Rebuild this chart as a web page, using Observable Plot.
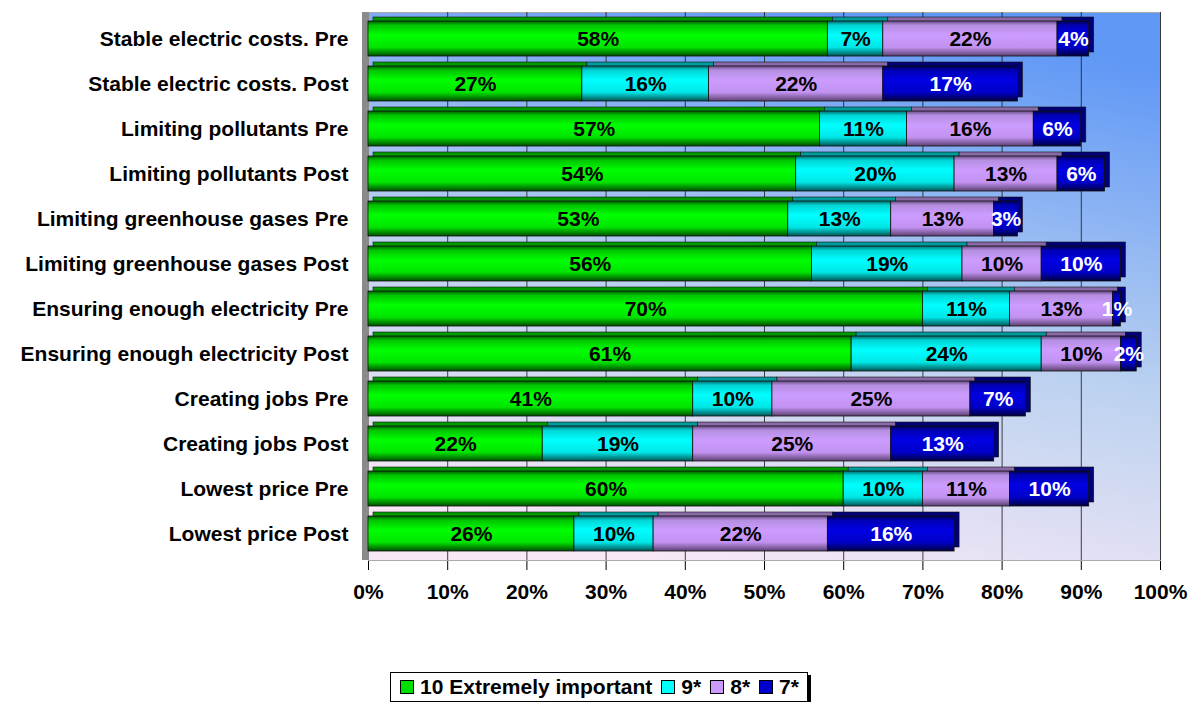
<!DOCTYPE html>
<html>
<head>
<meta charset="utf-8">
<script src="https://cdn.jsdelivr.net/npm/d3@7"></script>
<script src="https://cdn.jsdelivr.net/npm/@observablehq/plot@0.6"></script>
<style>
  body { margin: 0; background: #fff; font-family: "Liberation Sans", Arial, sans-serif; }
  #wrap { width: 1194px; }
  #legend { display: flex; justify-content: center; margin-top: 44px; padding-left: 4px; }
  .lg { display: inline-flex; align-items: center; border: 1px solid #000; box-shadow: 3px 3px 0 #000;
        padding: 0 8px 0 4px; font-weight: bold; font-size: 21px; color: #000; background: #fff; height: 28px; }
  .sw { display: inline-block; width: 12px; height: 12px; border: 1px solid #000; margin: 0 6px 0 9px; }
  .sw:first-child { margin-left: 5px; }
</style>
</head>
<body>
<div id="wrap"></div>
<script>
const categories = [
  "Stable electric costs. Pre",
  "Stable electric costs. Post",
  "Limiting pollutants Pre",
  "Limiting pollutants Post",
  "Limiting greenhouse gases Pre",
  "Limiting greenhouse gases Post",
  "Ensuring enough electricity Pre",
  "Ensuring enough electricity Post",
  "Creating jobs Pre",
  "Creating jobs Post",
  "Lowest price Pre",
  "Lowest price Post"
];
const seriesNames = ["10 Extremely important", "9*", "8*", "7*"];
const s10 = [58, 27, 57, 54, 53, 56, 70, 61, 41, 22, 60, 26];
const s9  = [7, 16, 11, 20, 13, 19, 11, 24, 10, 19, 10, 10];
const s8  = [22, 22, 16, 13, 13, 10, 13, 10, 25, 25, 11, 22];
const s7  = [4, 17, 6, 6, 3, 10, 1, 2, 7, 13, 10, 16];
const xTicks = [0, 10, 20, 30, 40, 50, 60, 70, 80, 90, 100];

const seriesValues = [s10, s9, s8, s7];
const frontFills = ["url(#g0)", "url(#g1)", "url(#g2)", "url(#g3)"];
const depthFills = ["#009a00", "#009c9c", "#8a6aa6", "#000078"];
const swatch = ["#00e000", "#00ffff", "#cc99ff", "#0000cc"];

// build table (stack offsets computed from the arrays)
const rows = [];
categories.forEach((c, i) => {
  let acc = 0;
  seriesValues.forEach((vals, k) => {
    const v = vals[i];
    rows.push({cat: c, series: seriesNames[k], k, value: v, x1: acc, x2: acc + v});
    acc += v;
  });
});

const chart = Plot.plot({
  width: 1194,
  height: 628,
  marginLeft: 368,
  marginRight: 34,
  marginTop: 12,
  marginBottom: 68,
  style: {fontFamily: '"Liberation Sans", Arial, sans-serif', fontWeight: "bold", fontSize: "21px", color: "#000", background: "transparent"},
  x: {domain: [0, 100], ticks: xTicks, tickFormat: d => d + "%", line: true, tickSize: 10, tickPadding: 14, label: null},
  y: {domain: categories, paddingInner: 0.23, paddingOuter: 0.115, tickSize: 0, tickPadding: 20, label: null},
  color: {domain: seriesNames, range: frontFills},
  marks: [
    Plot.frame({fill: "url(#bg)", stroke: "#aaa"}),
    Plot.gridX(xTicks, {stroke: "#222", strokeOpacity: 0.85, strokeWidth: 1}),
    Plot.ruleX([0], {stroke: "#8a8a8a", strokeWidth: 7, dx: -3}),
    // depth (top face / end cap)
    Plot.barX(rows, {x1: "x1", x2: "x2", y: "cat", fill: d => depthFills[d.k], dx: 5, dy: -4, stroke: "#111", strokeWidth: 0.6}),
    // front faces
    Plot.barX(rows, {x1: "x1", x2: "x2", y: "cat", fill: "series", stroke: "#111", strokeWidth: 0.8}),
    Plot.text(rows.filter(d => d.k !== 3), {x: d => (d.x1 + d.x2) / 2, y: "cat", text: d => d.value + "%", fill: "#000", fontSize: 21, fontWeight: "bold"}),
    Plot.text(rows.filter(d => d.k === 3), {x: d => (d.x1 + d.x2) / 2, y: "cat", text: d => d.value + "%", fill: "#fff", fontSize: 21, fontWeight: "bold"})
  ]
});

// gradient definitions
const ns = "http://www.w3.org/2000/svg";
const defs = document.createElementNS(ns, "defs");
function grad(id, stops, attrs) {
  const g = document.createElementNS(ns, "linearGradient");
  g.setAttribute("id", id);
  Object.entries(attrs).forEach(([k, v]) => g.setAttribute(k, v));
  stops.forEach(([o, c]) => {
    const s = document.createElementNS(ns, "stop");
    s.setAttribute("offset", o);
    s.setAttribute("stop-color", c);
    g.appendChild(s);
  });
  defs.appendChild(g);
}
const vert = {x1: 0, y1: 0, x2: 0, y2: 1};
grad("bg", [[0, "#f8e8f6"], [0.45, "#bcd2f0"], [1, "#6098f6"]], {x1: 0.35, y1: 1, x2: 0.65, y2: 0});
grad("g0", [[0, "#005c00"], [0.12, "#00c400"], [0.4, "#00ff00"], [0.75, "#00e400"], [1, "#004c00"]], vert);
grad("g1", [[0, "#006a6a"], [0.12, "#00d4d4"], [0.4, "#00ffff"], [0.75, "#00e6e6"], [1, "#005454"]], vert);
grad("g2", [[0, "#6a4c84"], [0.12, "#b48ee0"], [0.4, "#cc9cff"], [0.75, "#c292f2"], [1, "#5c4070"]], vert);
grad("g3", [[0, "#00004c"], [0.12, "#0000b4"], [0.4, "#0000e4"], [0.75, "#0000c8"], [1, "#000040"]], vert);
chart.insertBefore(defs, chart.firstChild);

const wrap = document.getElementById("wrap");
wrap.appendChild(chart);

// legend
const legend = document.createElement("div");
legend.id = "legend";
const box = document.createElement("div");
box.className = "lg";
seriesNames.forEach((n, k) => {
  const sw = document.createElement("span");
  sw.className = "sw";
  sw.style.background = swatch[k];
  const t = document.createElement("span");
  t.textContent = n;
  box.appendChild(sw);
  box.appendChild(t);
});
legend.appendChild(box);
wrap.appendChild(legend);
</script>
</body>
</html>
